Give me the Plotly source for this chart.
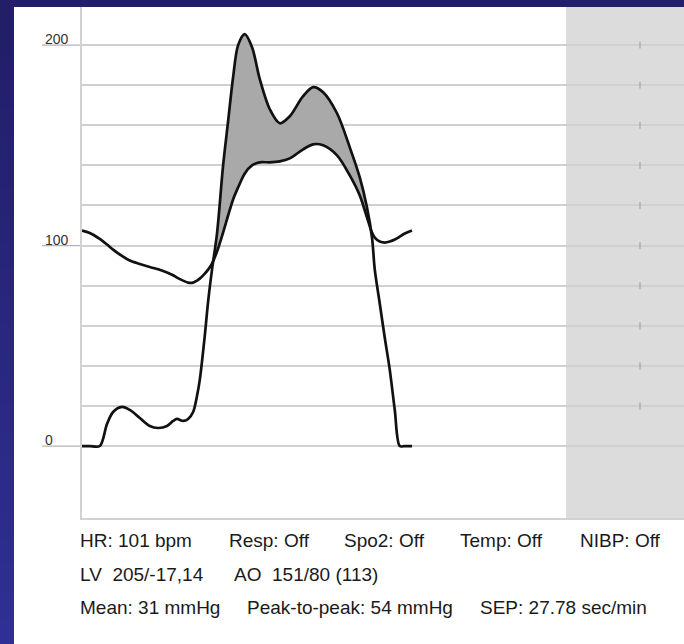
import numpy as np
import plotly.graph_objects as go

# ---------------- data ----------------
time_ms = [0, 14, 32, 45, 56, 72, 86, 104, 122, 137, 153, 164, 171, 182, 191, 200,
           207, 212, 221, 227, 234, 243, 254, 263, 272, 281, 293, 306, 320, 338, 356,
           374, 398, 416, 434, 459, 482, 500, 513, 522, 527, 536, 545, 554, 563, 572,
           581, 594]
lv_pressure = [0, 0, 0, 11, 17, 19.5, 18, 14, 10, 9, 10, 12.5, 13.5, 12.5, 13.5, 17,
               25, 33, 55, 72, 88, 106, 140, 162, 184, 200, 205.5, 199, 183, 168, 161,
               164.5, 174.5, 179, 176.5, 166, 149, 134, 119, 104, 88, 71, 54, 38, 18, 0,
               0, 0]
ao_pressure = [107.5, 106.3, 103.3, 100.5, 98, 94.8, 92.5, 90.8, 89.3, 88.2, 86.6, 85.2,
               84, 82.5, 81.5, 81.5, 82.5, 83.5, 86, 88, 91, 97, 106.5, 115, 123, 129,
               136, 140, 141.5, 141.5, 142, 143.5, 148, 150.5, 150, 145, 135, 125, 114,
               106.5, 104, 102, 101.5, 102, 103, 104.5, 106, 107.5]

grid_values = [0, 20, 40, 60, 80, 100, 120, 140, 160, 180, 200]
label_values = [0, 100, 200]

info_rows = [
    [("HR: 101 bpm", 78), ("Resp: Off", 227), ("Spo2: Off", 342), ("Temp: Off", 458), ("NIBP: Off", 578)],
    [("LV\u00a0 205/-17,14", 78), ("AO\u00a0 151/80 (113)", 232)],
    [("Mean: 31 mmHg", 78), ("Peak-to-peak: 54 mmHg", 245), ("SEP: 27.78 sec/min", 478)],
]
row_py = [540, 574, 607]

# ---------------- geometry helpers ----------------
W, H = 684, 644
ML, MR, MT, MB = 82, 0, 7, 126
PW, PH = W - ML - MR, H - MT - MB
X_MAX = PW * 1.8            # ms across the plotting area
Y_RANGE = [-35.9, 219.0]
GRAY_START = (566 - ML) * 1.8
MARK_T = (640 - ML) * 1.8

def px2paper_x(px):
    return (px - ML) / PW

def py2paper_y(py):
    return (H - MB - py) / PH

lv = np.array(lv_pressure, dtype=float)
ao = np.array(ao_pressure, dtype=float)
upper = np.maximum(lv, ao)

FONT = "Liberation Sans, Arial, sans-serif"
SM = 0.9

fig = go.Figure()

# filled region (LV above AO)
fig.add_trace(go.Scatter(x=time_ms, y=ao, mode="lines",
                         line=dict(width=0, shape="spline", smoothing=SM),
                         hoverinfo="skip", showlegend=False))
fig.add_trace(go.Scatter(x=time_ms, y=upper, mode="lines", fill="tonexty",
                         fillcolor="#a9a9a9",
                         line=dict(width=0, shape="spline", smoothing=SM),
                         hoverinfo="skip", showlegend=False))
# pressure curves
fig.add_trace(go.Scatter(x=time_ms, y=ao, mode="lines", name="AO",
                         line=dict(color="#111111", width=2.7, shape="spline", smoothing=SM),
                         showlegend=False))
fig.add_trace(go.Scatter(x=time_ms, y=lv, mode="lines", name="LV",
                         line=dict(color="#111111", width=2.7, shape="spline", smoothing=SM),
                         showlegend=False))
# small marks in the grey zone
fig.add_trace(go.Scatter(x=[MARK_T] * len(grid_values[1:]), y=grid_values[1:], mode="markers",
                         marker=dict(symbol="line-ns", size=5,
                                     line=dict(width=1, color="#9a9a9a")),
                         hoverinfo="skip", showlegend=False))

shapes = []
# grey zone
shapes.append(dict(type="rect", xref="x", yref="paper", x0=GRAY_START, x1=X_MAX * 1.01,
                   y0=0, y1=1, fillcolor="#dcdcdc", line=dict(width=0), layer="below"))
# tick extensions for labelled values
for v in label_values:
    shapes.append(dict(type="line", xref="paper", yref="y", x0=px2paper_x(42), x1=0,
                       y0=v, y1=v, line=dict(color="#b4b4b4", width=1.2), layer="below"))

# dark blue frame (gradient on the left, band on the top)
top_col = np.array([0x22, 0x1e, 0x66])
bot_col = np.array([0x30, 0x30, 0x96])
n_strip = 24
for i in range(n_strip):
    f = (i + 0.5) / n_strip
    c = (top_col + (bot_col - top_col) * f).astype(int)
    col = "rgb(%d,%d,%d)" % tuple(c)
    shapes.append(dict(type="rect", xref="paper", yref="paper",
                       x0=px2paper_x(0), x1=px2paper_x(14),
                       y0=py2paper_y(H * (i + 1) / n_strip + 1), y1=py2paper_y(H * i / n_strip),
                       fillcolor=col, line=dict(width=0), layer="above"))
shapes.append(dict(type="rect", xref="paper", yref="paper",
                   x0=px2paper_x(0), x1=1.01, y0=py2paper_y(7), y1=py2paper_y(-2),
                   fillcolor="#221e68", line=dict(width=0), layer="above"))

annotations = []
for v in label_values:
    annotations.append(dict(x=px2paper_x(43), xref="paper", y=v, yref="y",
                            text=str(v), showarrow=False, xanchor="left", yanchor="bottom",
                            yshift=-4, font=dict(family=FONT, size=14, color="#333333")))
for row, py in zip(info_rows, row_py):
    for txt, px in row:
        annotations.append(dict(x=px2paper_x(px), xref="paper", y=py2paper_y(py), yref="paper",
                                text=txt, showarrow=False, xanchor="left", yanchor="middle",
                                font=dict(family=FONT, size=19, color="#1a1a1a")))

fig.update_layout(
    width=W, height=H, autosize=False,
    margin=dict(l=ML, r=MR, t=MT, b=MB, pad=0),
    paper_bgcolor="white", plot_bgcolor="white",
    shapes=shapes, annotations=annotations,
    xaxis=dict(range=[0, X_MAX], showgrid=False, zeroline=False, showticklabels=False,
               ticks="", showline=True, linecolor="#d2d2d2", linewidth=2, fixedrange=True),
    yaxis=dict(range=Y_RANGE, tickvals=grid_values, showgrid=True, gridcolor="#d0d0d0",
               gridwidth=1.6, zeroline=False, showticklabels=False, ticks="",
               showline=True, linecolor="#d2d2d2", linewidth=2, fixedrange=True),
    showlegend=False,
)

fig.write_html("out.html", config={"displayModeBar": False},
               post_script="document.body.style.margin='0';")
